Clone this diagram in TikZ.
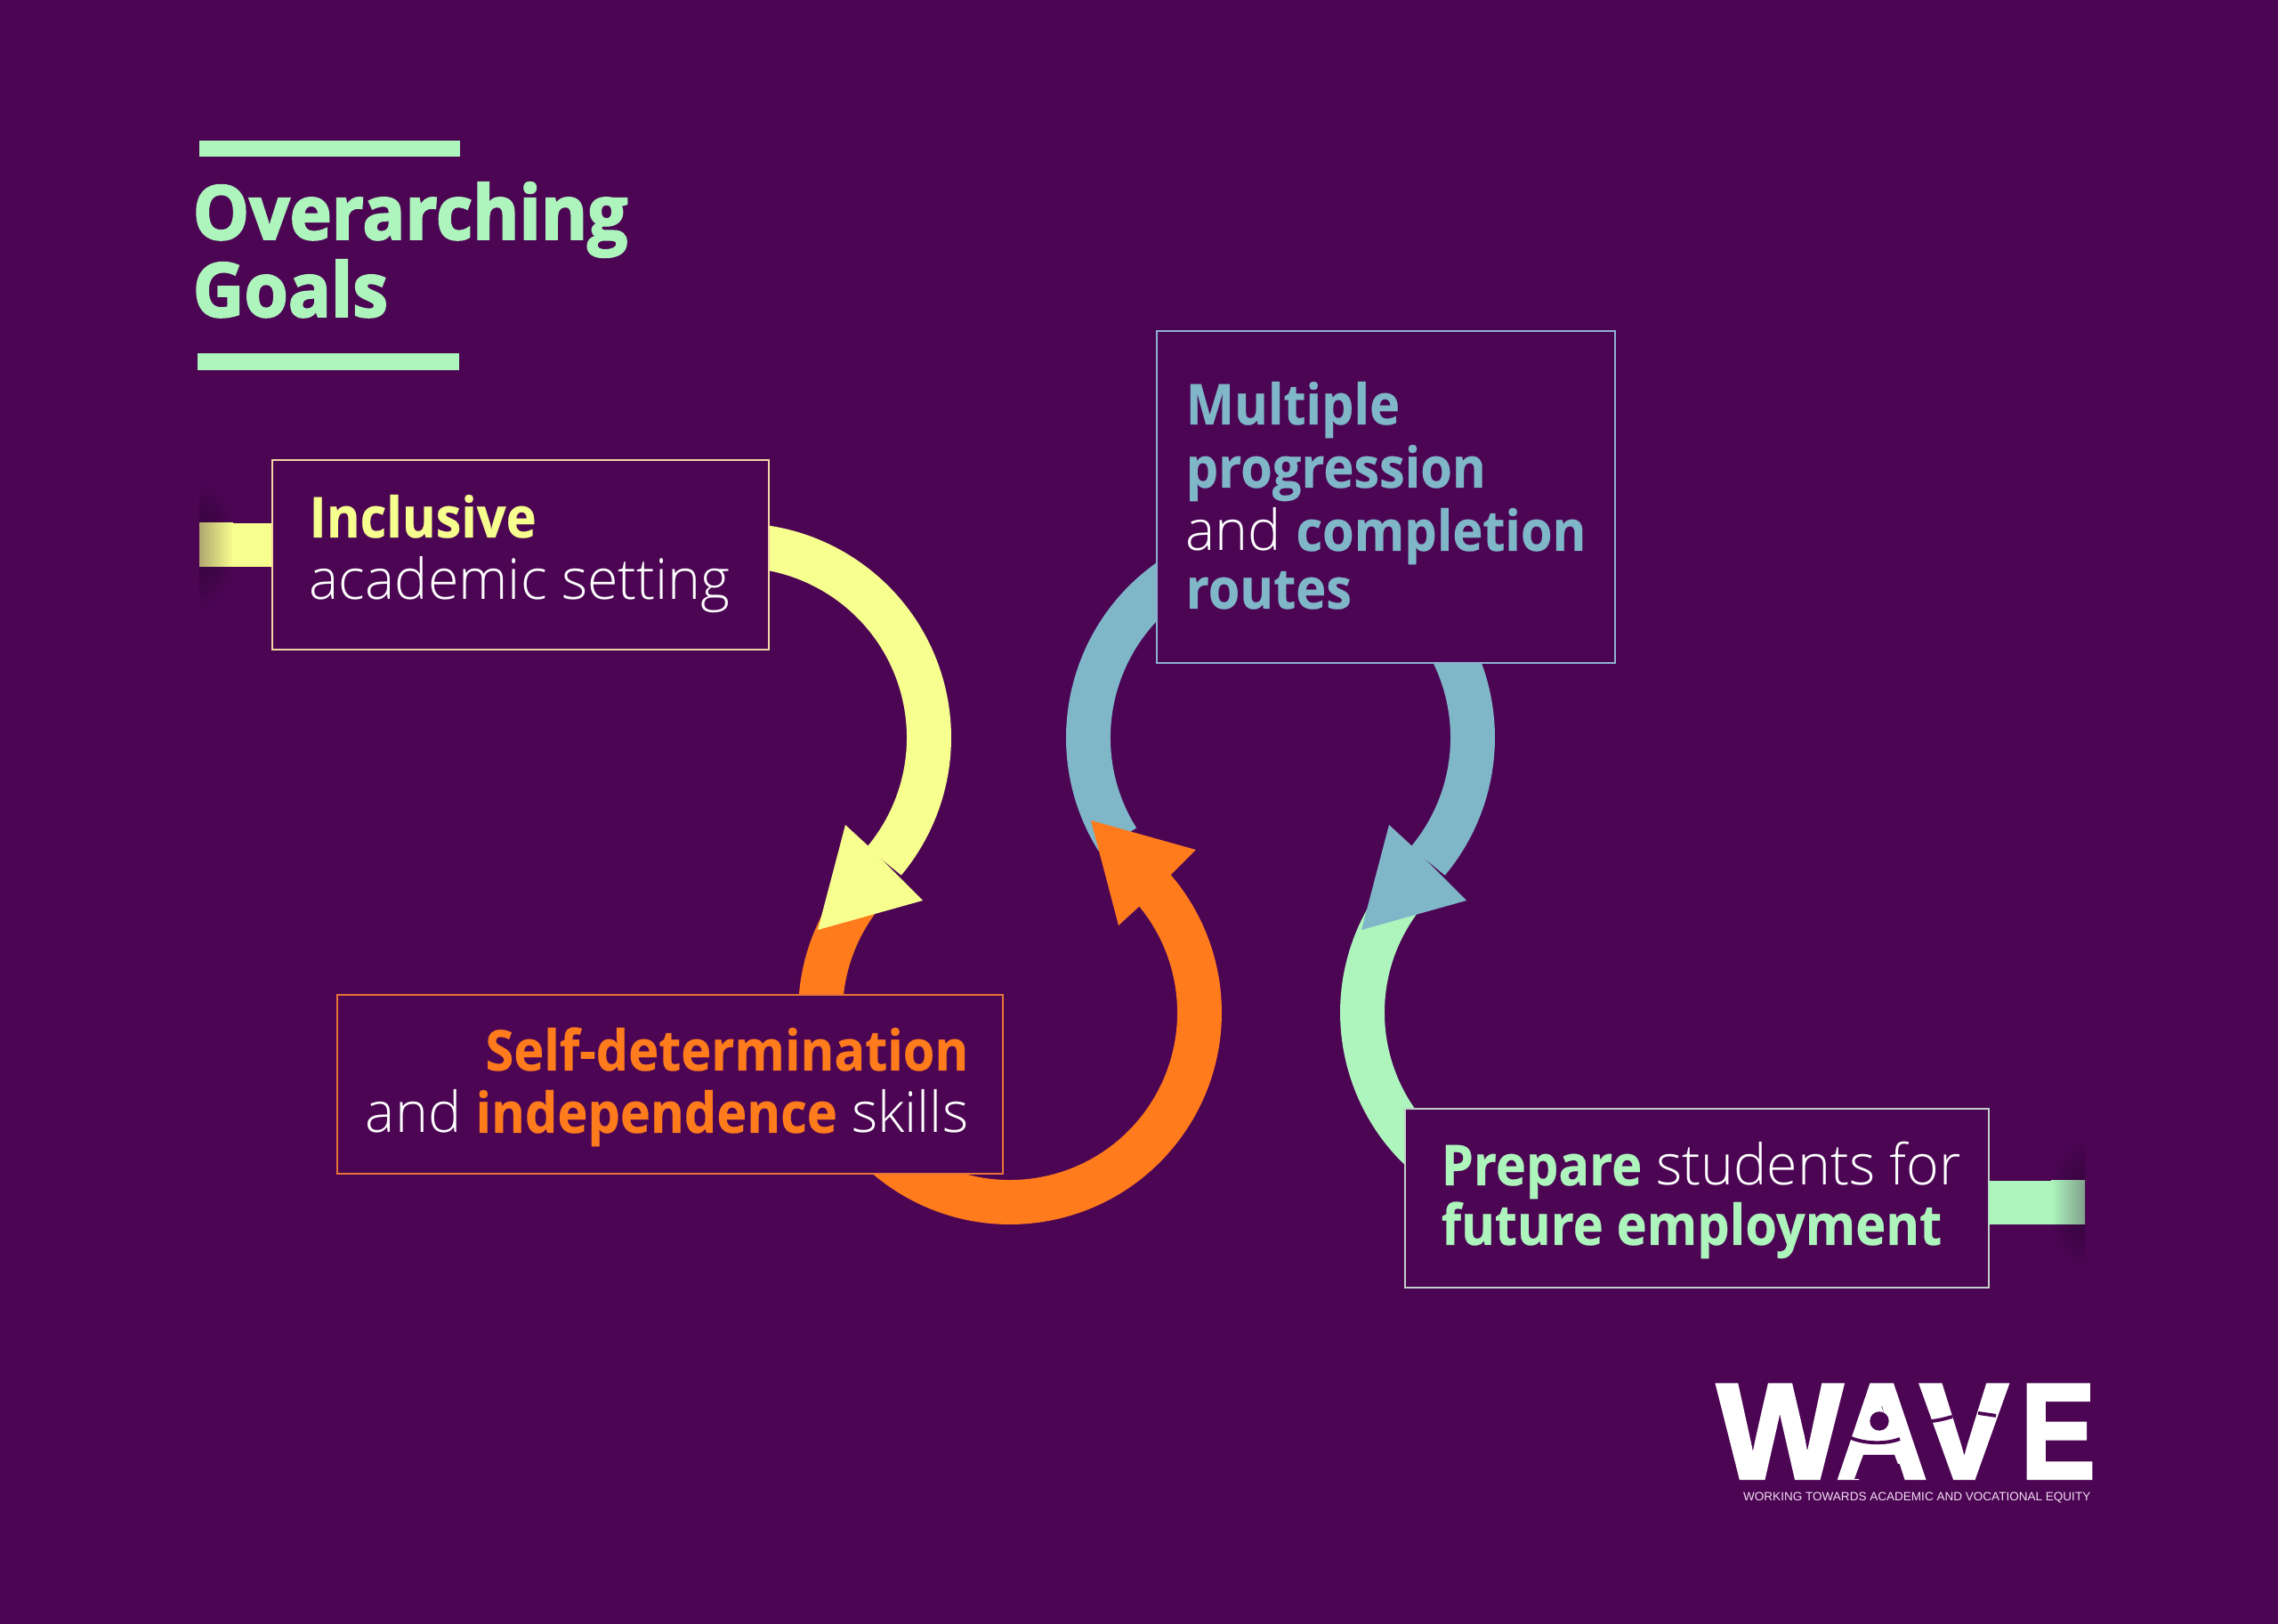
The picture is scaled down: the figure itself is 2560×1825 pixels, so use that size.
\documentclass[tikz,border=0pt]{standalone}
\usepackage{fontspec}
\usepackage{graphicx}
\usetikzlibrary{calc}
\newfontfamily\heavybase{Open Sans}[FakeStretch=0.945,BoldFeatures={FakeBold=2.4}]
\newfontfamily\strongbase{Open Sans}[FakeStretch=0.91,BoldFeatures={FakeBold=0.4}]
\newfontfamily\thinfont{Open Sans Light}[FakeStretch=0.99]
\newfontfamily\logofont{Liberation Sans}[BoldFeatures={FakeBold=2.5}]
\newcommand{\heavyfont}{\heavybase\bfseries}
\newcommand{\strongfont}{\strongbase\bfseries}
\definecolor{bgc}{HTML}{4B0553}
\definecolor{shadowc}{HTML}{2E0336}
\definecolor{mintc}{HTML}{ADF5BD}
\definecolor{lemonc}{HTML}{F7FF8E}
\definecolor{flamec}{HTML}{FF7B1C}
\definecolor{skyc}{HTML}{7FB7C9}
\definecolor{taglinec}{HTML}{F3DDF3}
\definecolor{sandc}{HTML}{F2D6A6}
\definecolor{ashc}{HTML}{C2CEC8}
\definecolor{rustc}{HTML}{E8743A}
\definecolor{steelc}{HTML}{8DB2D0}
\tikzset{
  goalbox/.style={draw=#1,line width=0.6pt,fill=bgc,inner sep=0pt},
  goalline/.style={anchor=base west,inner sep=0pt,text=white,font=\thinfont\fontsize{18}{20}\selectfont},
  goalright/.style={goalline,anchor=base east},
  titleline/.style={anchor=base west,inner sep=0pt,text=mintc,font=\heavyfont\fontsize{24}{28}\selectfont},
  goalloop/.style={draw=#1,line width=14.2pt},
  logoletter/.style={anchor=south west,inner sep=0pt,text=white},
  logocut/.style={draw=bgc,line width=1.1pt}
}
% barbed head of a loop, relative to the loop centre
\newcommand{\loophead}{(91,-216) -- (122,-98) -- (147,-121) -- (183,-157) -- (209,-183) -- cycle}
\newcommand{\logoglyph}[2]{\resizebox{#1cm}{1.05cm}{\logofont\bfseries #2}}
\begin{document}
\begin{tikzpicture}[x=0.01cm,y=0.01cm]
  \useasboundingbox (0,0) rectangle (2560,1825);
  \fill[bgc] (0,0) rectangle (2560,1825);

  % Title with its two rules
  \fill[mintc] (224,1667) rectangle (517,1649);
  \fill[mintc] (222,1428) rectangle (516,1409);
  \node[titleline] (title1) at (216,1556) {Overarching};
  \node[titleline] (title2) at (216,1469) {Goals};

  % Loop centres
  \coordinate (O1) at (828,996);
  \coordinate (O2) at (1135,687);
  \coordinate (O3) at (1439,996);
  \coordinate (O4) at (1744,687);

  % Green loop
  \draw[goalloop=mintc] ([shift={(143:213)}]O4) arc (143:230:213);

  % Blue loop
  \draw[goalloop=skyc] ([shift={(212:216)}]O3) arc (212:-40:216);
  \fill[skyc,shift={(O3)}] \loophead;

  % Orange loop
  \draw[goalloop=flamec] ([shift={(143:213)}]O2) arc (143:401:213);
  \fill[flamec,shift={(O2)},yscale=-1] \loophead;

  % Yellow loop
  \draw[goalloop=lemonc] ([shift={(100:216)}]O1) arc (100:-40:216);
  \fill[lemonc,shift={(O1)}] \loophead;

  % Goal boxes
  \node[goalbox=sandc,minimum width=5.58cm,minimum height=2.13cm] (inclusive) at (585,1201.5) {};
  \node[goalbox=steelc,minimum width=5.15cm,minimum height=3.73cm] (routes) at (1557.5,1266.5) {};
  \node[goalbox=rustc,minimum width=7.48cm,minimum height=2.01cm] (selfdet) at (753,606.5) {};
  \node[goalbox=ashc,minimum width=6.56cm,minimum height=2.01cm] (prepare) at (1907,478.5) {};

  % Free ends of the two stubs
  \coordinate (stubL) at (224,1212.5);
  \coordinate (stubR) at (2343,473.5);

  % Left stub with its shadow
  \begin{scope}
    \clip (224,1100) rectangle (320,1320);
    \shade[inner color=shadowc,outer color=bgc] (stubL) ellipse (42 and 72);
  \end{scope}
  \shade[left color=lemonc!65!shadowc,right color=lemonc] (224,1188) rectangle (262,1237);
  \fill[lemonc] (261,1188) rectangle (305,1237);

  % Right stub with its shadow
  \begin{scope}
    \clip (2250,360) rectangle (2343,590);
    \shade[inner color=shadowc,outer color=bgc] (stubR) ellipse (42 and 72);
  \end{scope}
  \fill[mintc] (2235,449) rectangle (2306,498);
  \shade[left color=mintc,right color=mintc!65!shadowc] (2305,449) rectangle (2343,498);

  % Goal texts
  \node[goalline] (inc1) at (347,1221) {\strongfont\textcolor{lemonc}{Inclusive}};
  \node[goalline] (inc2) at (347,1151) {academic setting};

  \node[goalline] (rou1) at (1332,1348) {\strongfont\textcolor{skyc}{Multiple}};
  \node[goalline] (rou2) at (1332,1277) {\strongfont\textcolor{skyc}{progression}};
  \node[goalline] (rou3) at (1332,1206) {and {\strongfont\textcolor{skyc}{completion}}};
  \node[goalline] (rou4) at (1332,1141) {\strongfont\textcolor{skyc}{routes}};

  \node[goalright] (sel1) at (1089,622) {\strongfont\textcolor{flamec}{Self-determination}};
  \node[goalright] (sel2) at (1089,552) {and {\strongfont\textcolor{flamec}{independence}} skills};

  \node[goalline] (pre1) at (1619,493) {{\strongfont\textcolor{mintc}{Prepare}} students for};
  \node[goalline] (pre2) at (1619,426) {\strongfont\textcolor{mintc}{future employment}};

  % Logo
  \node[logoletter] (logoW) at (1929,163) {\logoglyph{1.41}{W}};
  \node[logoletter] (logoA) at (2063,163) {\logoglyph{1.02}{A}};
  \node[logoletter] (logoV) at (2157,163) {\logoglyph{0.99}{V}};
  \node[logoletter] (logoE) at (2270,163) {\logoglyph{0.84}{E}};
  \fill[white] (2112,250) -- (2084,180) -- (2140,180) -- cycle;
  \fill[bgc] (2094,190) -- (2129,190) -- (2139,163) -- (2084,163) -- cycle;
  \fill[bgc] (2112,228) circle (10.7);
  \draw[logocut] (2078,210) .. controls (2095,202) and (2120,202) .. (2135,208);
  \draw[logocut] (2171,228) .. controls (2180,229) and (2187,231) .. (2194,233);
  \draw[logocut] (2223,237) .. controls (2230,236) and (2237,235) .. (2243,234);
  \node[anchor=base east,inner sep=0pt,text=taglinec,font=\logofont\fontsize{3.85}{5}\selectfont] (tagline) at (2350,138) {WORKING TOWARDS ACADEMIC AND VOCATIONAL EQUITY};
\end{tikzpicture}
\end{document}
